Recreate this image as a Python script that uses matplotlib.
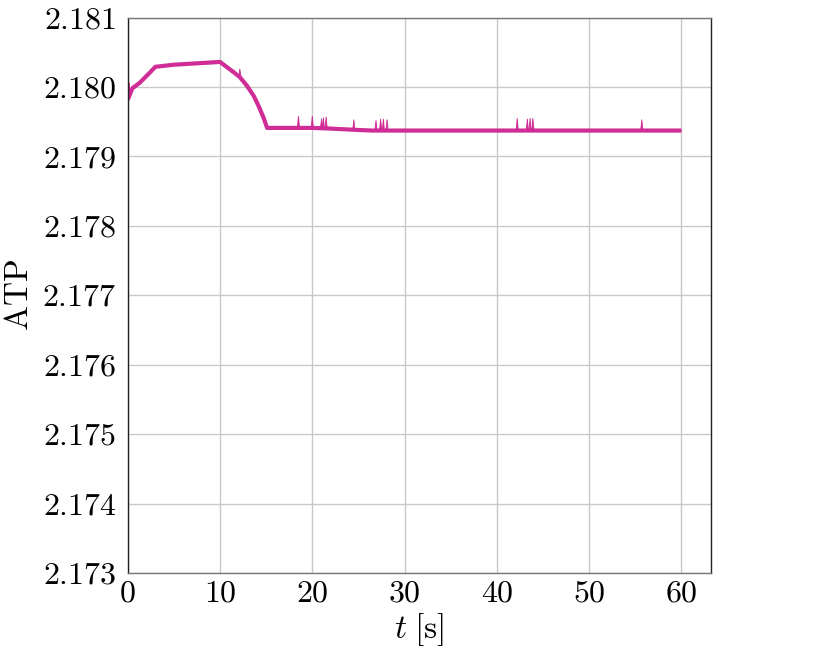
import numpy as np
import matplotlib
matplotlib.use("Agg")
from matplotlib import pyplot as plt

plt.rcParams['mathtext.fontset'] = 'cm'
plt.rcParams['font.family'] = 'serif'
plt.rcParams['font.serif'] = ['cmr10', 'DejaVu Serif']
plt.rcParams['axes.formatter.use_mathtext'] = True

# smooth part of the ATP trace
base_t = [0.0, 0.05, 0.5, 1.3, 2.2, 3.0, 5.0, 7.5, 10.0, 10.5, 11.0, 11.5, 12.15,
          12.9, 13.66, 14.2, 14.74, 15.1, 20.0, 22.0, 25.0, 26.5, 60.0]
base_atp = [2.18006, 2.17983, 2.17998, 2.18006, 2.18018, 2.18029, 2.18032, 2.18034,
            2.18036, 2.18031, 2.18026, 2.18021, 2.18014, 2.18002, 2.17987, 2.17972,
            2.17955, 2.17941, 2.17941, 2.17940, 2.17938, 2.179372, 2.179372]

# short spikes on the trace: time, level below, peak
spike_t = [12.15, 18.5, 20.0, 21.0, 21.2, 21.5, 24.5, 26.9, 27.4, 27.7, 28.1,
           42.2, 43.3, 43.6, 43.9, 55.7]
spike_low = [2.18014, 2.17941, 2.17941, 2.17941, 2.17940, 2.17940, 2.17938, 2.179372,
             2.179372, 2.179372, 2.179372, 2.179372, 2.179372, 2.179372, 2.179372, 2.179372]
spike_high = [2.18026, 2.17958, 2.17958, 2.17954, 2.17956, 2.17957, 2.17953, 2.17952,
              2.17954, 2.17954, 2.17953, 2.17955, 2.17954, 2.17955, 2.17955, 2.17953]

fig = plt.figure(figsize=(8.32, 6.58), dpi=100)
ax = fig.add_axes([0.1535, 0.1292, 0.7011, 0.8442])

col = '#d02c96'
ax.plot(base_t, base_atp, color=col, lw=3.0, solid_joinstyle='round',
        solid_capstyle='butt')
for t, lo, hi in zip(spike_t, spike_low, spike_high):
    ax.fill([t - 0.12, t, t + 0.12], [lo, hi, lo], color=col, lw=0.6)

ax.set_xlim(0, 63.2)
ax.set_ylim(2.173, 2.181)
xt = [0, 10, 20, 30, 40, 50, 60]
yt = [2.173, 2.174, 2.175, 2.176, 2.177, 2.178, 2.179, 2.180, 2.181]
ax.set_xticks(xt)
ax.set_xticklabels([r'$%d$' % v for v in xt])
ax.set_yticks(yt)
ax.set_yticklabels([r'$%.3f$' % v for v in yt])
ax.tick_params(length=0, labelsize=23)
ax.tick_params(axis='y', pad=8)
ax.tick_params(axis='x', pad=5)
ax.grid(True, color='#c8c8c8', lw=1.0)
ax.set_axisbelow(True)

for s in ['left', 'right']:
    ax.spines[s].set_color('#222222')
for s in ['top', 'bottom']:
    ax.spines[s].set_color('#777777')
for s in ax.spines.values():
    s.set_linewidth(1.0)

ax.set_xlabel(r'$t\;[\mathrm{s}]$', fontsize=24, labelpad=3)
ax.set_ylabel(r'$\mathrm{ATP}$', fontsize=24, labelpad=6)

fig.savefig('out.png', dpi=100)
